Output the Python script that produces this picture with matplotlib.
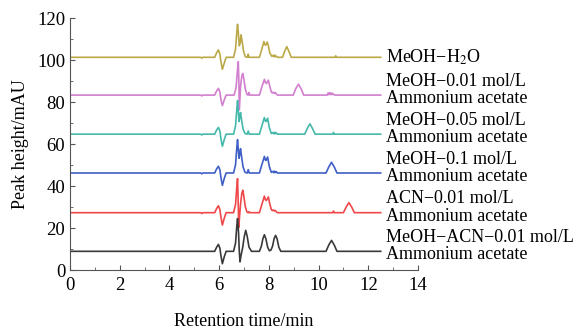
import matplotlib
matplotlib.use("Agg")
import matplotlib.pyplot as plt
from matplotlib.ticker import MultipleLocator

plt.rcParams["font.family"] = ["Liberation Serif", "DejaVu Serif"]
plt.rcParams["mathtext.fontset"] = "stix"

# ---------------- data ----------------
# each trace: retention time (min) and signal above its own baseline (mAU)

t_h2o = [0, 5.26, 5.3, 5.34, 5.82, 5.9, 5.97, 6.03, 6.07, 6.13, 6.2, 6.28,
         6.58, 6.66, 6.71, 6.74, 6.77, 6.81, 6.85, 6.88, 6.92, 6.98, 7.05,
         7.14, 7.17, 7.2, 7.62, 7.72, 7.8, 7.84, 7.88, 7.93, 7.97, 8.04, 8.12,
         8.18, 8.21, 8.25, 8.28, 8.31, 8.36, 8.55, 8.64, 8.72, 8.8, 8.9,
         10.66, 10.69, 10.72, 12.5]
y_h2o = [0, 0, -0.4, 0, 0, 2.2, 3.5, 1.5, -2, -5.7, -3, 0,
         0, 4, 12, 15.7, 12, 5.5, 7, 10.7, 8, 3, 0.3,
         0, 1.5, 0, 0, 4, 7.5, 6, 5.8, 7.3, 6, 2, 0.4,
         1, 0.2, 1, 0.3, 0.4, 0, 0, 3, 5.1, 3, 0,
         0, 0.7, 0, 0]

t_m01 = [0, 5.26, 5.3, 5.34, 5.82, 5.9, 5.97, 6.03, 6.07, 6.13, 6.2, 6.28,
         6.6, 6.68, 6.73, 6.77, 6.79, 6.81, 6.83, 6.86, 6.91, 6.95, 6.99, 7.05, 7.12,
         7.17, 7.2, 7.23, 7.62, 7.72, 7.82, 7.86, 7.9, 7.98, 8.04, 8.1,
         8.14, 8.18, 8.22, 8.26, 8.3, 8.35, 8.98, 9.08, 9.19, 9.3, 9.4,
         10.35, 10.38, 10.41, 10.44, 10.47, 10.5, 10.53, 10.56, 10.6, 10.65, 12.5]
y_m01 = [0, 0, -0.4, 0, 0, 2, 3.2, 1.5, -2, -5, -2.5, 0,
         0, 3.5, 11, 15.9, 8, -7, -3, 4, 9, 10.3, 8, 3, 0.3,
         0, 1.2, 0, 0, 4, 7.5, 6, 5.5, 7.1, 4, 1.5,
         1, 1.4, 0.8, 1.2, 0.5, 0, 0, 3, 5.2, 3, 0,
         0, 1, 0.2, 1.1, 0.3, 1, 0.2, 0.8, 0.4, 0, 0]

t_m05 = [0, 5.26, 5.3, 5.34, 5.82, 5.9, 5.97, 6.03, 6.07, 6.13, 6.2, 6.28,
         6.58, 6.66, 6.71, 6.74, 6.77, 6.8, 6.83, 6.86, 6.9, 6.96, 7.04,
         7.13, 7.17, 7.21, 7.62, 7.72, 7.82, 7.86, 7.89, 7.95, 8.02, 8.1,
         8.17, 8.2, 8.24, 8.28, 8.31, 8.35, 9.44, 9.55, 9.65, 9.75, 9.86,
         10.57, 10.6, 10.63, 12.5]
y_m05 = [0, 0, -0.4, 0, 0, 2, 3.2, 1.5, -2, -5.8, -2.8, 0,
         0, 4, 12, 16, 11, 6, 8, 10.3, 7, 2.5, 0.3,
         0, 1.5, 0, 0, 4, 7.9, 6.2, 6, 7.6, 3, 0.3,
         0.8, 0.1, 0.9, 0.2, 0.5, 0, 0, 2.8, 4.9, 2.8, 0,
         0, 0.8, 0, 0]

t_m10 = [0, 5.26, 5.3, 5.34, 5.82, 5.9, 5.97, 6.03, 6.07, 6.13, 6.2, 6.28,
         6.58, 6.66, 6.71, 6.74, 6.77, 6.8, 6.83, 6.86, 6.9, 6.96, 7.04,
         7.13, 7.17, 7.21, 7.62, 7.72, 7.82, 7.86, 7.89, 7.95, 8.02, 8.1,
         8.17, 8.2, 8.24, 8.28, 8.31, 8.35, 10.3, 10.41, 10.52, 10.63, 10.74, 12.5]
y_m10 = [0, 0, -0.4, 0, 0, 2, 3.2, 1.5, -2, -5.9, -2.8, 0,
         0, 4, 12, 15.9, 11, 7, 9, 11.6, 8, 3, 0.3,
         0, 1.6, 0, 0, 4, 7.9, 6.2, 6, 7.6, 3, 0.3,
         0.8, 0.1, 0.9, 0.2, 0.5, 0, 0, 2.9, 5.1, 2.9, 0, 0]

t_acn = [0, 5.26, 5.3, 5.34, 5.82, 5.9, 5.97, 6.03, 6.07, 6.13, 6.2, 6.28,
         6.58, 6.66, 6.71, 6.74, 6.76, 6.79, 6.82, 6.86, 6.91, 6.95, 6.99, 7.05, 7.12,
         7.17, 7.2, 7.23, 7.62, 7.72, 7.82, 7.86, 7.9, 7.98, 8.04, 8.1,
         8.14, 8.18, 8.22, 8.26, 8.3, 8.35, 10.57, 10.6, 10.63,
         11.0, 11.11, 11.22, 11.33, 11.44, 12.5]
y_acn = [0, 0, -0.4, 0, 0, 2, 3.3, 1.5, -2, -5.9, -2.8, 0,
         0, 4, 12, 16.2, 8, -7, -2, 4, 9, 10.7, 8, 3, 0.3,
         0, 0.5, 0, 0, 4, 7.9, 6.2, 5.8, 7.5, 4, 1.5,
         1, 1.3, 0.8, 1.1, 0.4, 0, 0, 0.8, 0,
         0, 2.7, 4.8, 2.7, 0, 0]

t_mix = [0, 5.82, 5.9, 5.97, 6.03, 6.07, 6.13, 6.2, 6.28,
         6.58, 6.66, 6.71, 6.74, 6.78, 6.81, 6.84, 6.88, 6.95, 7.01, 7.07, 7.13, 7.2, 7.3,
         7.62, 7.7, 7.76, 7.82, 7.88, 7.95, 8.02, 8.08, 8.15, 8.21, 8.27, 8.33, 8.4, 8.48,
         10.3, 10.41, 10.52, 10.63, 10.74, 12.5]
y_mix = [0, 0, 2, 3.3, 1.5, -2, -5.9, -2.8, 0,
         0, 4, 12, 15.6, 9, 0, -5, -2, 2, 7, 10, 7, 2, 0,
         0, 2.5, 6, 7.9, 6, 2, 0.3, 0.5, 2.5, 6, 7.6, 6, 2, 0,
         0, 3, 5.2, 3, 0, 0]

baselines = [101.3, 83.3, 64.7, 46.2, 27.3, 8.9]

labels = [
    "MeOH\u2212H$_2$O",
    "MeOH\u22120.01 mol/L\nAmmonium acetate",
    "MeOH\u22120.05 mol/L\nAmmonium acetate",
    "MeOH\u22120.1 mol/L\nAmmonium acetate",
    "ACN\u22120.01 mol/L\nAmmonium acetate",
    "MeOH\u2212ACN\u22120.01 mol/L\nAmmonium acetate",
]

colors = ["#bba948", "#d27fcf", "#45b8ac", "#3f5fc6", "#f0484a", "#3a3a3a"]

traces = [(t_h2o, y_h2o), (t_m01, y_m01), (t_m05, y_m05),
          (t_m10, y_m10), (t_acn, y_acn), (t_mix, y_mix)]

# ---------------- figure ----------------
fig = plt.figure(figsize=(5.8, 3.32), dpi=100)
ax = fig.add_axes([0.1207, 0.1867, 0.6, 0.759])

for (t, y), base, col, lab in zip(traces, baselines, colors, labels):
    ax.plot(t, [v + base for v in y], color=col, linewidth=1.2)
    two_lines = "\n" in lab
    ax.text(12.72, base + (2.5 if two_lines else 0), lab, fontsize=13,
            va="center", ha="left", linespacing=1.02, clip_on=False)

ax.set_xlim(0, 14)
ax.set_ylim(0, 120)
ax.xaxis.set_major_locator(MultipleLocator(2))
ax.xaxis.set_minor_locator(MultipleLocator(1))
ax.yaxis.set_major_locator(MultipleLocator(20))
ax.yaxis.set_minor_locator(MultipleLocator(10))

for side in ["top", "right"]:
    ax.spines[side].set_visible(False)
for side in ["left", "bottom"]:
    ax.spines[side].set_color("#555555")
    ax.spines[side].set_linewidth(0.8)

ax.tick_params(which="both", direction="in", colors="#555555", labelcolor="black",
               labelsize=13.5)
ax.tick_params(which="major", length=3.5)
ax.tick_params(which="minor", length=2)
ax.tick_params(axis="x", pad=5)

ax.set_xlabel("Retention time/min", fontsize=13, labelpad=14)
ax.set_ylabel("Peak height/mAU", fontsize=13, labelpad=6)

fig.savefig("out.png", dpi=100)
